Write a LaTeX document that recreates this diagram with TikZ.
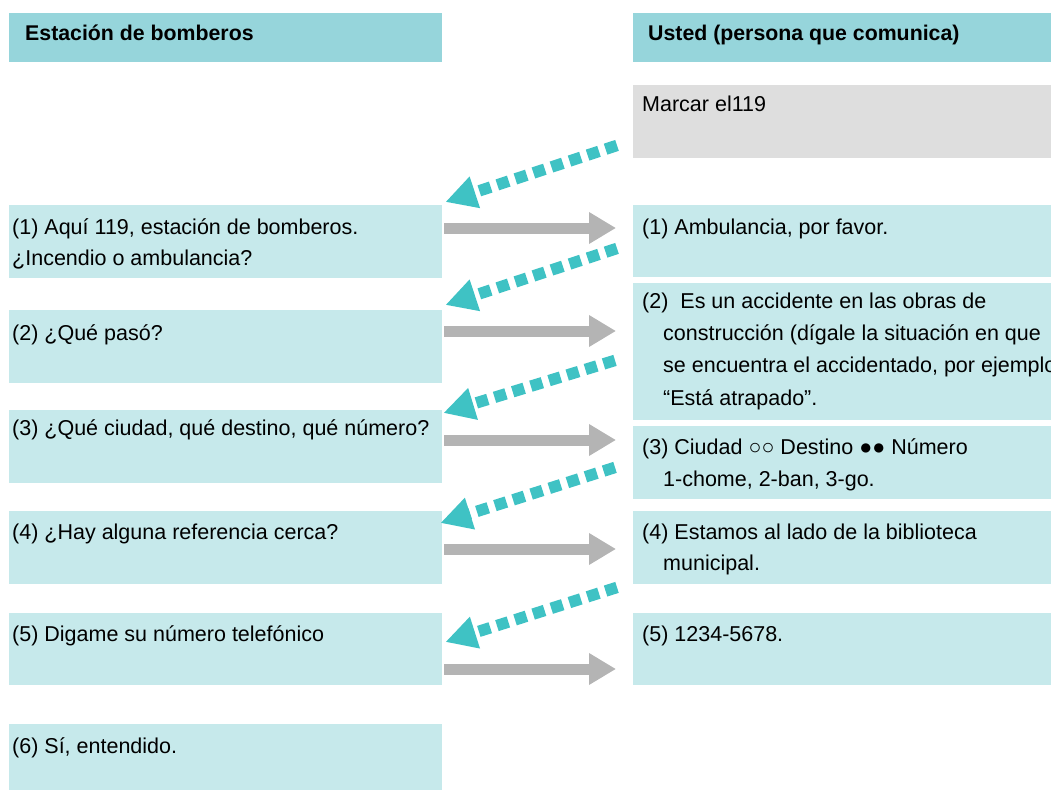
\documentclass[tikz,border=0pt]{standalone}
\usepackage{fontspec}
\setmainfont{Liberation Sans}
\usetikzlibrary{arrows.meta}

\definecolor{hdrcyan}{HTML}{96D5DB}
\definecolor{boxcyan}{HTML}{C6E9EB}
\definecolor{boxgray}{HTML}{DEDEDE}
\definecolor{arrgray}{HTML}{B4B4B4}
\definecolor{arrteal}{HTML}{3FC2C4}

\begin{document}
\begin{tikzpicture}[x=1pt, y=-1pt,
  lbox/.style={anchor=north west, fill=boxcyan, minimum width=433, inner sep=0},
  rbox/.style={anchor=north west, fill=boxcyan, minimum width=425, inner sep=0},
  hdr/.style={anchor=north west, fill=hdrcyan, minimum height=49, inner sep=0},
  txt/.style={anchor=base west, align=left, inner sep=0, font=\fontsize{21.5}{31.5}\selectfont},
  htxt/.style={anchor=base west, inner sep=0, font=\bfseries\fontsize{21.3}{26}\selectfont},
  ask/.style={draw=arrgray, line width=11, -{Triangle[length=27,width=30]}},
  answer/.style={draw=arrteal, line width=11.5, dash pattern=on 12 off 7, -{Triangle[length=31,width=31]}}]
\useasboundingbox (0,0) rectangle (1051,789);
\clip (0,0) rectangle (1051,789);

% headers
\node[hdr, minimum width=433] (hl) at (9,13) {};
\node[hdr, minimum width=425] (hr) at (633,13) {};
\node[htxt] (hlt) at ([shift={(16,28)}]hl.north west) {Estación de bomberos};
\node[htxt] (hrt) at ([shift={(15,28)}]hr.north west) {Usted (persona que comunica)};

% left column: fire station
\node[lbox, minimum height=73] (e1) at (9,205) {};
\node[lbox, minimum height=73] (e2) at (9,310) {};
\node[lbox, minimum height=73] (e3) at (9,410) {};
\node[lbox, minimum height=73] (e4) at (9,511) {};
\node[lbox, minimum height=72] (e5) at (9,613) {};
\node[lbox, minimum height=66] (e6) at (9,724) {};
% multi-line texts sit on their last baseline
\node[txt] (e1t) at ([shift={(3,60.5)}]e1.north west) {(1) Aquí 119, estación de bomberos.\\¿Incendio o ambulancia?};
\node[txt] (e2t) at ([shift={(3,30)}]e2.north west) {(2) ¿Qué pasó?};
\node[txt] (e3t) at ([shift={(3,25)}]e3.north west) {(3) ¿Qué ciudad, qué destino, qué número?};
\node[txt] (e4t) at ([shift={(3,28)}]e4.north west) {(4) ¿Hay alguna referencia cerca?};
\node[txt] (e5t) at ([shift={(3,28)}]e5.north west) {(5) Digame su número telefónico};
\node[txt] (e6t) at ([shift={(3,29)}]e6.north west) {(6) Sí, entendido.};

% right column: caller
\node[rbox, fill=boxgray, minimum height=73] (m) at (633,85) {};
\node[rbox, minimum height=72] (u1) at (633,205) {};
\node[rbox, minimum height=137] (u2) at (633,283) {};
\node[rbox, minimum height=73] (u3) at (633,426) {};
\node[rbox, minimum height=73] (u4) at (633,511) {};
\node[rbox, minimum height=72] (u5) at (633,613) {};
\node[txt] (mt) at ([shift={(9,27)}]m.north west) {Marcar el119};
\node[txt] (u1t) at ([shift={(9,29)}]u1.north west) {(1) Ambulancia, por favor.};
\node[txt, font=\fontsize{21.5}{32.3}\selectfont] (u2t) at ([shift={(9,122)}]u2.north west) {(2)\ \ Es un accidente en las obras de\\
  \hspace*{21pt}construcción (dígale la situación en que\\
  \hspace*{21pt}se encuentra el accidentado, por ejemplo\\
  \hspace*{21pt}“Está atrapado”.};
\node[txt] (u3t) at ([shift={(9,60)}]u3.north west) {(3) Ciudad ○○ Destino ●● Número\\
  \hspace*{21pt}1-chome, 2-ban, 3-go.};
\node[txt] (u4t) at ([shift={(9,59.5)}]u4.north west) {(4) Estamos al lado de la biblioteca\\
  \hspace*{21pt}municipal.};
\node[txt] (u5t) at ([shift={(9,28)}]u5.north west) {(5) 1234-5678.};

% questions go right
\foreach \i/\dy in {1/23, 2/21, 3/30, 4/38, 5/56} {
  \path ([shift={(2,\dy)}]e\i.north east) coordinate (g\i);
  \draw[ask] (g\i) -- ([xshift=-17]g\i -| u\i.west);
}

% answers come back
\foreach \a/\ax/\ay/\b/\bx/\by in {m/-16/-13/e1/3/-3, u1/-16/-29/e2/3/-5,
    u2/-18/-60/e3/1/3, u3/-18/-32/e4/-2/12, u4/-16/3/e5/3/29} {
  \draw[answer] ([shift={(\ax,\ay)}]\a.south west) -- ([shift={(\bx,\by)}]\b.north east);
}
\end{tikzpicture}
\end{document}
